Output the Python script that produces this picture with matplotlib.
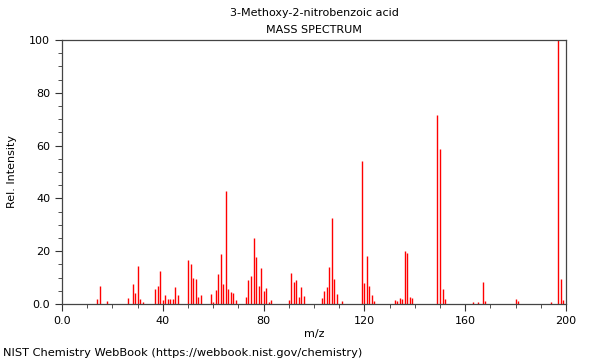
import matplotlib
matplotlib.use("Agg")
import matplotlib.pyplot as plt
from matplotlib.ticker import MultipleLocator, FuncFormatter

# m/z peaks and relative intensities
mz = [14, 15, 18, 26, 28, 29, 30, 31, 32, 37, 38, 39, 40, 41, 42, 43, 44, 45, 46,
      50, 51, 52, 53, 54, 55, 59, 60, 61, 62, 63, 64, 65, 66, 67, 68, 69,
      73, 74, 75, 76, 77, 78, 79, 80, 81, 82, 83,
      90, 91, 92, 93, 94, 95, 96,
      103, 104, 105, 106, 107, 108, 109, 111,
      119, 120, 121, 122, 123, 124,
      132, 133, 134, 135, 136, 137, 138, 139,
      149, 150, 151, 152, 163, 165, 167, 168, 180, 181, 194, 197, 198, 199]
intensity = [1.8, 6.9, 1.1, 2.4, 7.7, 4.3, 14.4, 2.0, 0.8, 5.7, 6.9, 12.5, 1.5, 3.4, 2.0, 1.9, 1.9, 6.4, 3.4,
             16.7, 15.0, 10.0, 9.5, 2.7, 3.3, 3.8, 0.8, 5.2, 11.5, 18.9, 7.6, 42.8, 5.7, 4.5, 4.0, 1.5,
             2.5, 9.2, 10.6, 25.0, 17.7, 6.7, 13.5, 4.9, 6.2, 0.8, 1.5,
             1.5, 11.6, 8.3, 9.2, 2.7, 6.4, 3.0,
             2.1, 4.9, 6.4, 14.0, 32.4, 9.6, 3.7, 1.3,
             54.3, 7.8, 18.2, 6.9, 3.4, 1.1,
             1.6, 1.0, 2.3, 2.0, 20.1, 19.3, 2.5, 2.3,
             71.6, 58.7, 5.7, 1.9, 0.9, 0.6, 8.3, 1.1, 2.0, 1.1, 0.8, 100.0, 9.3, 1.5]

compound = "3-Methoxy-2-nitrobenzoic acid"

plt.rcParams['font.family'] = 'DejaVu Sans'
plt.rcParams['font.size'] = 8

fig = plt.figure(figsize=(6, 3.6), dpi=100)
ax = fig.add_axes([62/600, 56/360, 504/600, 264/360])

ax.vlines(mz, 0, intensity, color='red', lw=1)

ax.set_xlim(0, 200)
ax.set_ylim(0, 100)
ax.xaxis.set_major_locator(MultipleLocator(40))
ax.xaxis.set_minor_locator(MultipleLocator(10))
ax.yaxis.set_major_locator(MultipleLocator(20))
ax.yaxis.set_minor_locator(MultipleLocator(5))
fmt = FuncFormatter(lambda v, p: "0.0" if v == 0 else "%d" % v)
ax.xaxis.set_major_formatter(fmt)
ax.yaxis.set_major_formatter(fmt)
ax.tick_params(which='major', length=5, width=0.8, color='#333333')
ax.tick_params(which='minor', length=3, width=0.6, color='#333333')
for s in ax.spines.values():
    s.set_color('#444444')
    s.set_linewidth(0.9)

ax.set_xlabel('m/z', labelpad=2)
ax.set_ylabel('Rel. Intensity', labelpad=9)

fig.text(314/600, 1 - 13/360, compound, ha='center', va='center', fontsize=8)
fig.text(314/600, 1 - 30/360, 'MASS SPECTRUM', ha='center', va='center', fontsize=8)
fig.text(3/600, 1 - 353/360, 'NIST Chemistry WebBook (https://webbook.nist.gov/chemistry)',
         ha='left', va='center', fontsize=8.2)

fig.savefig('out.png', dpi=100)
